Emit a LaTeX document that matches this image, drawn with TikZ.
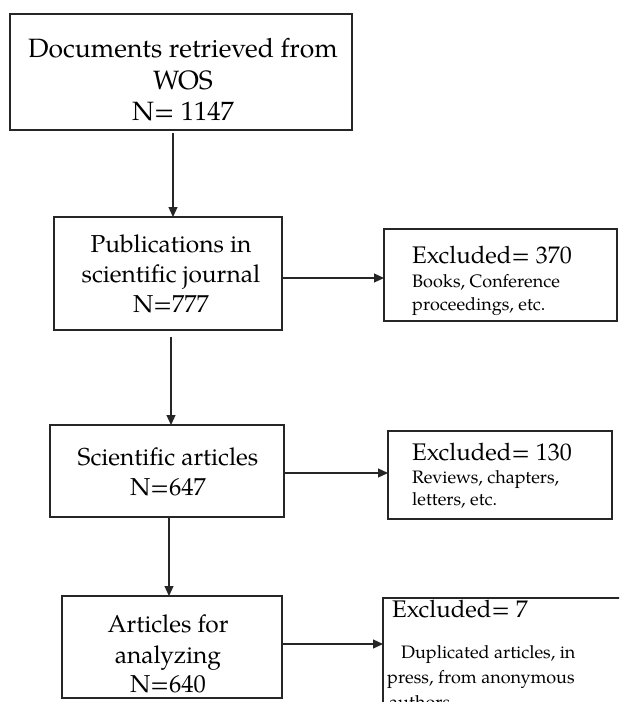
\documentclass[tikz,border=0pt]{standalone}
\usepackage{fontspec}
\setmainfont{TeX Gyre Pagella}
\usetikzlibrary{arrows.meta}
\begin{document}
\begin{tikzpicture}[x=1pt,y=-1pt,
  box/.style={draw=black!85, line width=1.3pt, inner sep=0pt, outer sep=0pt},
  conn/.style={draw=black!85, line width=1.2pt, -{Triangle[length=10pt,width=9pt]}},
  tbig/.style={font=\fontsize{26.5}{31}\selectfont, inner sep=0pt, anchor=base},
  tmid/.style={font=\fontsize{24.5}{30}\selectfont, inner sep=0pt, anchor=base},
  texc/.style={font=\fontsize{24}{28}\selectfont, inner sep=0pt, anchor=base west},
  tsm/.style={font=\fontsize{18}{22}\selectfont, inner sep=0pt, anchor=base west}]
\useasboundingbox (0,0) rectangle (619,702);
\clip (0,0) rectangle (619,702);
\fill[white] (0,0) rectangle (619,702);

% boxes
\node[box, minimum width=342pt, minimum height=116pt] (b1) at (181,72) {};
\node[box, minimum width=228pt, minimum height=113pt] (b2) at (168,273.5) {};
\node[box, minimum width=234pt, minimum height=92pt] (b3) at (167,471) {};
\node[box, minimum width=220pt, minimum height=102pt] (b4) at (172,647) {};
\node[box, minimum width=233pt, minimum height=92pt] (e1) at (500.5,275) {};
\node[box, minimum width=224pt, minimum height=88pt] (e2) at (500,475) {};
\node[box, minimum width=277pt, minimum height=142pt] (e3) at (521.5,669) {};

% texts
\node[tbig] (t1a) at (183,57) {Documents retrieved from};
\node[tbig] (t1b) at (183,89) {WOS};
\node[tbig] (t1c) at (183,120) {N= 1147};

\node[tmid] (t2a) at (171,252) {Publications in};
\node[tmid] (t2b) at (171,282) {scientific journal};
\node[tmid] (t2c) at (171,312) {N=777};

\node[tmid] (t3a) at (168,465) {Scientific articles};
\node[tmid] (t3b) at (168,495) {N=647};

\node[tmid] (t4a) at (168,632) {Articles for};
\node[tmid] (t4b) at (168,663) {analyzing};
\node[tmid] (t4c) at (168,692) {N=640};

\node[texc] (x1a) at (412,263) {Excluded= 370};
\node[tsm] (x1b) at (412,287) {Books, Conference};
\node[tsm] (x1c) at (412,310) {proceedings, etc.};

\node[texc] (x2a) at (412,460) {Excluded= 130};
\node[tsm] (x2b) at (412,483) {Reviews, chapters,};
\node[tsm] (x2c) at (412,505) {letters, etc.};

\node[texc] (x3a) at (392,617) {Excluded= 7};
\node[tsm] (x3b) at (401,658) {Duplicated articles, in};
\node[tsm] (x3c) at (387,683) {press, from anonymous};
\node[tsm] (x3d) at (389,708) {authors};

% connectors
\draw[conn] ([xshift=-8pt,yshift=-3pt]b1.south) -- ([xshift=-8pt]b1.south |- b2.north);
\draw[conn] ([xshift=3pt,yshift=-7pt]b2.south) -- ([xshift=3pt]b2.south |- b3.north);
\draw[conn] ([xshift=2pt]b3.south) -- ([xshift=2pt]b3.south |- b4.north);
\draw[conn] ([yshift=-4.5pt]b2.east) -- ([yshift=-4.5pt]b2.east -| e1.west);
\draw[conn] ([yshift=-2pt]b3.east) -- ([yshift=-2pt]b3.east -| e2.west);
\draw[conn] ([yshift=3pt]b4.east) -- ([yshift=3pt]b4.east -| e3.west);
\end{tikzpicture}
\end{document}
